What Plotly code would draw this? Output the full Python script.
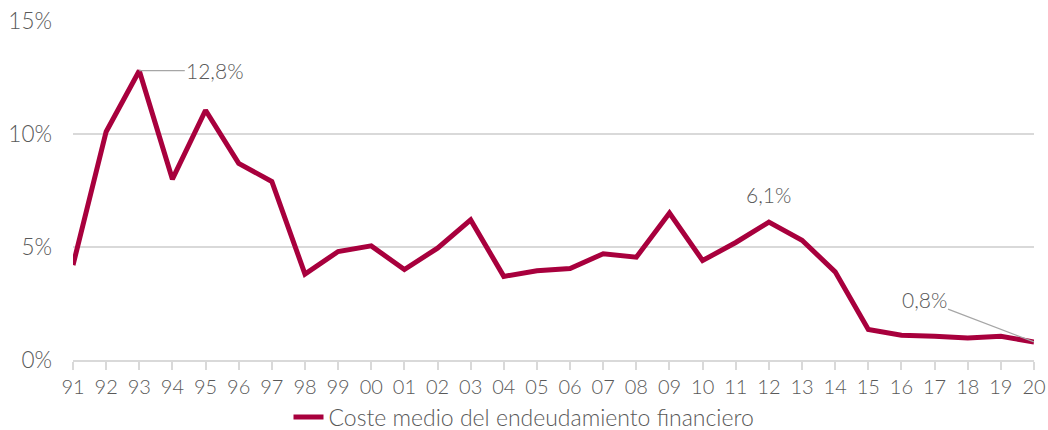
import plotly.graph_objects as go

years = ["91","92","93","94","95","96","97","98","99","00","01","02","03","04","05",
         "06","07","08","09","10","11","12","13","14","15","16","17","18","19","20"]
coste = [4.2, 10.1, 12.8, 8.0, 11.05, 8.7, 7.9, 3.8, 4.8, 5.05, 4.0, 4.95, 6.2, 3.7, 3.95,
         4.05, 4.7, 4.55, 6.5, 4.4, 5.2, 6.1, 5.3, 3.9, 1.35, 1.1, 1.05, 0.97, 1.05, 0.8]
ytick_vals = [0, 5, 10, 15]
ytick_text = ["0%", "5%", "10%", "15%"]
series_name = "Coste medio del endeudamiento financiero"

xs = list(range(len(years)))
color = "#A8003D"
grey = "#595959"
grid = "#D9D9D9"
font = "Lato"
fw = 300

W, H = 1048, 430

fig = go.Figure()
fig.add_trace(go.Scatter(x=xs, y=coste, mode="lines", name=series_name,
                         line=dict(color=color, width=5)))

fig.add_annotation(x=2, y=coste[2], text="12,8%", showarrow=True, arrowhead=0,
                   arrowwidth=1.2, arrowcolor="#A6A6A6", ax=76, ay=0,
                   font=dict(size=21, color=grey, family=font, weight=fw))
fig.add_annotation(x=21, y=coste[21], text="6,1%", showarrow=False, yshift=28,
                   font=dict(size=21, color=grey, family=font, weight=fw))
fig.add_annotation(x=29, y=coste[29], text="0,8%", showarrow=True, arrowhead=0,
                   arrowwidth=1.2, arrowcolor="#A6A6A6", ax=-110, ay=-42,
                   font=dict(size=21, color=grey, family=font, weight=fw))

fig.update_layout(
    width=W, height=H,
    margin=dict(l=73, r=14, t=21, b=70, autoexpand=False),
    paper_bgcolor="white", plot_bgcolor="white",
    font=dict(family=font, size=20, color=grey, weight=fw),
    showlegend=True,
    legend=dict(orientation="h", x=0.5, xanchor="center", xref="container",
                y=13 / H, yanchor="middle", yref="container",
                font=dict(size=23, color=grey, family=font, weight=fw)),
)
fig.update_xaxes(range=[0, len(years) - 1], tickmode="array", tickvals=xs, ticktext=years,
                 automargin=False, ticklabeloverflow="allow",
                 showgrid=False, zeroline=False, showline=True, linecolor=grid, linewidth=2,
                 ticks="outside", ticklen=8, tickcolor=grid, tickwidth=2,
                 tickfont=dict(size=20, color=grey, family=font, weight=fw))
fig.update_yaxes(range=[0, 15], tickmode="array", tickvals=ytick_vals, ticktext=ytick_text,
                 automargin=False, ticklabeloverflow="allow",
                 showgrid=True, gridcolor=grid, gridwidth=2, zeroline=False, showline=False,
                 ticks="", ticklabelstandoff=20,
                 tickfont=dict(size=22.5, color=grey, family=font, weight=fw))

fig.write_html("out.html", config={"displayModeBar": False},
               post_script="document.body.style.margin='0';document.body.style.overflow='hidden';")
